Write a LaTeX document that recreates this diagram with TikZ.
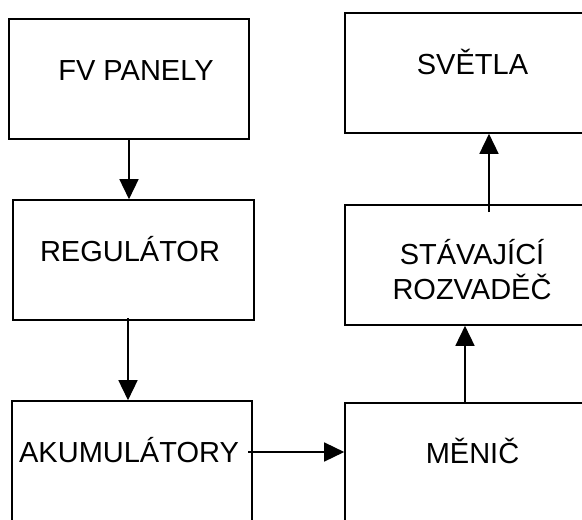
\documentclass[tikz,border=0pt]{standalone}
\usepackage{fontspec}
\setmainfont{Liberation Sans}
\usetikzlibrary{arrows.meta}
\begin{document}
\begin{tikzpicture}[x=1pt,y=-1pt,
  box/.style={draw=black,line width=1.6pt,minimum width=240pt,minimum height=120pt,inner sep=0pt,fill=none},
  lbl/.style={font=\fontsize{29}{35}\selectfont,inner sep=0pt,anchor=base,align=center},
  arr/.style={line width=1.5pt,-{Triangle[width=19pt,length=20pt]}}]
\useasboundingbox (0,0) rectangle (582,520);
\clip (0,0) rectangle (582,520);
\fill[white] (0,0) rectangle (582,520);
% boxes
\node[box] (fv) at (129,79) {};
\node[box,minimum width=241pt] (reg) at (133.5,260) {};
\node[box] (aku) at (132,461) {};
\node[box] (svetla) at (465,73) {};
\node[box] (stav) at (465,265) {};
\node[box] (menic) at (465,463) {};
% labels
\node[lbl] (tfv) at (136,80) {FV PANELY};
\node[lbl] (treg) at (130,261) {REGULÁTOR};
\node[lbl] (taku) at (129,462) {AKUMULÁTORY};
\node[lbl] (tsvetla) at (472.5,74) {SVĚTLA};
\node[lbl] (tstav1) at (472,264) {STÁVAJÍCÍ};
\node[lbl] (tstav2) at (472,299) {ROZVADĚČ};
\node[lbl] (tmenic) at (472.5,463) {MĚNIČ};
% connector start points
\coordinate (s1) at (129,139);
\coordinate (s2) at (128,318);
\coordinate (s3) at (248,452);
\coordinate (s4) at (465,403);
\coordinate (s5) at (489,212);
% connectors
\draw[arr] (s1) -- (s1 |- reg.north);
\draw[arr] (s2) -- (s2 |- aku.north);
\draw[arr] (s3) -- (s3 -| menic.west);
\draw[arr] (s4) -- (s4 |- stav.south);
\draw[arr] (s5) -- (s5 |- svetla.south);
\end{tikzpicture}
\end{document}
